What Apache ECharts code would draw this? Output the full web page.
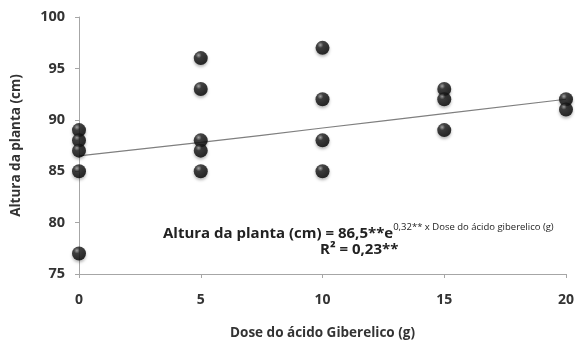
<!DOCTYPE html>
<html><head><meta charset="utf-8">
<script src="https://cdn.jsdelivr.net/npm/echarts@6/dist/echarts.min.js"></script>
<style>html,body{margin:0;padding:0;background:#fff}#c{width:575px;height:342px}</style>
</head><body><div id="c"></div>
<script>
const doseX = [0,0,0,0,0, 5,5,5,5,5, 10,10,10,10, 15,15,15, 20,20];
const altura = [89,88,87,85,77, 96,93,88,87,85, 97,92,88,85, 93,92,89, 92,91];
const trendX = [0,5,10,15,20];
const trendY = [86.5,87.8,89.2,90.6,92.0];
const xTicks = [0,5,10,15,20];
const yTicks = [75,80,85,90,95,100];

const font = "'Open Sans', 'Liberation Sans', sans-serif";
const chart = echarts.init(document.getElementById('c'));
const ball = new echarts.graphic.RadialGradient(0.35,0.3,0.7,[
  {offset:0,color:'#9a9a9a'},{offset:0.3,color:'#1c1c1c'},{offset:1,color:'#000'}]);
chart.setOption({
  animation:false,
  grid:{left:79,right:9,top:17,bottom:68,containLabel:false,outerBoundsMode:'none'},
  xAxis:{type:'value',min:xTicks[0],max:xTicks[xTicks.length-1],interval:5,
    axisLine:{onZero:false,lineStyle:{color:'#a6a6a6'}},
    axisTick:{show:true,length:4,lineStyle:{color:'#a6a6a6'}},
    splitLine:{show:false},
    axisLabel:{margin:19,color:'#333',fontSize:14,fontWeight:'bold',fontFamily:font},
    name:'Dose do ácido Giberelico (g)',nameLocation:'middle',nameGap:52,
    nameTextStyle:{color:'#333',fontSize:13.5,fontWeight:'bold',fontFamily:font}},
  yAxis:{type:'value',min:yTicks[0],max:yTicks[yTicks.length-1],interval:5,
    axisLine:{show:true,lineStyle:{color:'#a6a6a6'}},
    axisTick:{show:true,length:4,lineStyle:{color:'#a6a6a6'}},
    splitLine:{show:false},
    axisLabel:{margin:14,color:'#333',fontSize:14.5,fontWeight:'bold',fontFamily:font},
    name:'Altura da planta (cm)',nameLocation:'middle',nameGap:56,
    nameTextStyle:{color:'#333',fontSize:13.5,fontWeight:'bold',fontFamily:font}},
  series:[
    {type:'line',data:trendX.map((x,i)=>[x,trendY[i]]),symbol:'none',smooth:true,
     lineStyle:{color:'#7f7f7f',width:1.2},z:2},
    {type:'scatter',data:doseX.map((x,i)=>[x,altura[i]]),symbolSize:14,
     itemStyle:{color:ball,shadowColor:'rgba(0,0,0,0.35)',shadowBlur:3,shadowOffsetY:2},z:3}
  ],
  graphic:[
    {type:'text',left:163,top:222,style:{
      text:'{m|Altura da planta (cm) = 86,5**e}{s|0,32** x Dose do ácido giberelico (g)}',
      rich:{m:{fontSize:15,fontWeight:'bold',fontFamily:font,fill:'#222',verticalAlign:'bottom'},
            s:{fontSize:9.5,fontFamily:font,fill:'#222',verticalAlign:'top',padding:[0,0,9,0]}}}},
    {type:'text',left:320,top:242,style:{text:'R² = 0,23**',fontSize:15,fontWeight:'bold',fontFamily:font,fill:'#222'}}
  ]
});
</script></body></html>
